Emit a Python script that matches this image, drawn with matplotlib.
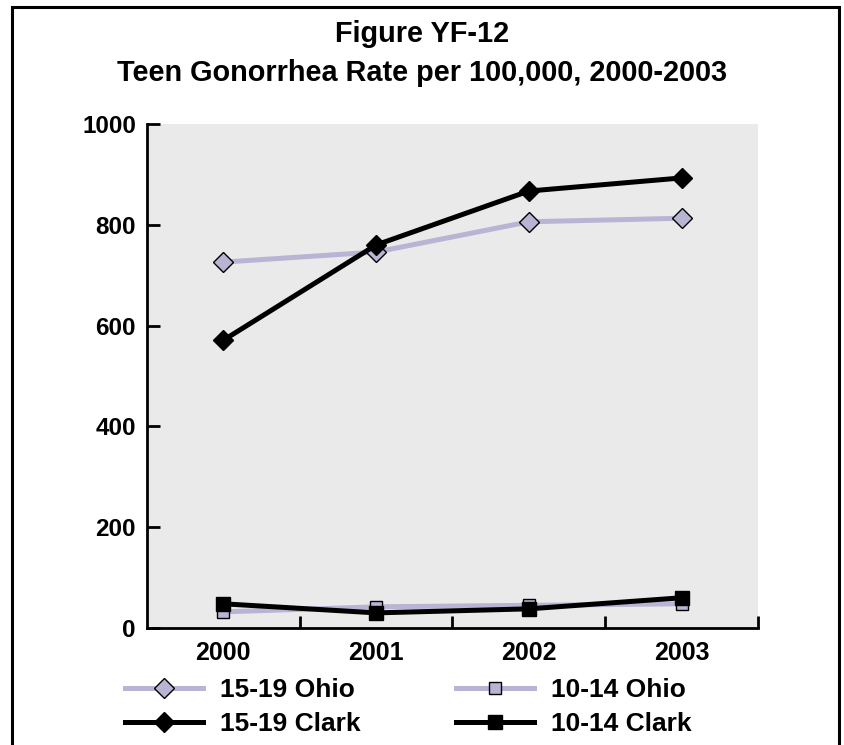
import matplotlib.pyplot as plt
from matplotlib.patches import Rectangle

plt.rcParams['font.family'] = ['Liberation Sans', 'DejaVu Sans']
plt.rcParams['font.weight'] = 'bold'

years = ["2000", "2001", "2002", "2003"]
ohio_15_19 = [726, 746, 806, 813]
clark_15_19 = [571, 760, 867, 893]
ohio_10_14 = [32, 42, 45, 48]
clark_10_14 = [48, 30, 38, 60]

lavender = "#b8b4d4"

fig = plt.figure(figsize=(8.45, 7.45), dpi=100)
ax = fig.add_axes([147 / 845, 1 - 628 / 745, (758 - 147) / 845, (628 - 124) / 745])
ax.set_facecolor("#eaeaea")

x = range(len(years))
l1, = ax.plot(x, ohio_15_19, color=lavender, lw=3.6, marker="D", ms=10,
              mfc=lavender, mec="black", mew=1, label="15-19 Ohio")
l3, = ax.plot(x, ohio_10_14, color=lavender, lw=3.6, marker="s", ms=9,
              mfc=lavender, mec="black", mew=1, label="10-14 Ohio")
l2, = ax.plot(x, clark_15_19, color="black", lw=3.6, marker="D", ms=10.5,
              label="15-19 Clark")
l4, = ax.plot(x, clark_10_14, color="black", lw=3.6, marker="s", ms=10,
              label="10-14 Clark")

ax.set_xlim(-0.5, 3.5)
ax.set_ylim(0, 1000)
ax.set_yticks([0, 200, 400, 600, 800, 1000])
ax.set_xticks([0.5, 1.5, 2.5, 3.5])
ax.set_xticklabels([])
ax.set_xticks(list(x), minor=True)
ax.set_xticklabels(years, minor=True)
ax.tick_params(axis="x", which="major", direction="in", length=9, width=2)
ax.tick_params(axis="x", which="minor", length=0, pad=9, labelsize=18)
ax.tick_params(axis="y", direction="in", length=9, width=2, pad=8, labelsize=17.5)
for s in ["top", "right"]:
    ax.spines[s].set_visible(False)
for s in ["left", "bottom"]:
    ax.spines[s].set_linewidth(2)

fig.text(0.5, 1 - 34 / 745, "Figure YF-12", ha="center", va="center", fontsize=20.8, fontweight="bold")
fig.text(0.5, 1 - 73 / 745, "Teen Gonorrhea Rate per 100,000, 2000-2003", ha="center", va="center",
         fontsize=20.8, fontweight="bold")

fig.legend(handles=[l1, l2, l3, l4], ncol=2, loc="upper left",
           bbox_to_anchor=(112 / 845, 1 - 665 / 745), frameon=False, borderpad=0,
           fontsize=19, handlelength=2.95, handletextpad=0.65, columnspacing=3.6,
           labelspacing=0.37)

fig.patches.append(Rectangle((12 / 845, -0.1), 827 / 845, 1.1 - 7 / 745, transform=fig.transFigure,
                             fill=False, lw=2.2, ec="black"))

fig.savefig("out.png", dpi=100)
